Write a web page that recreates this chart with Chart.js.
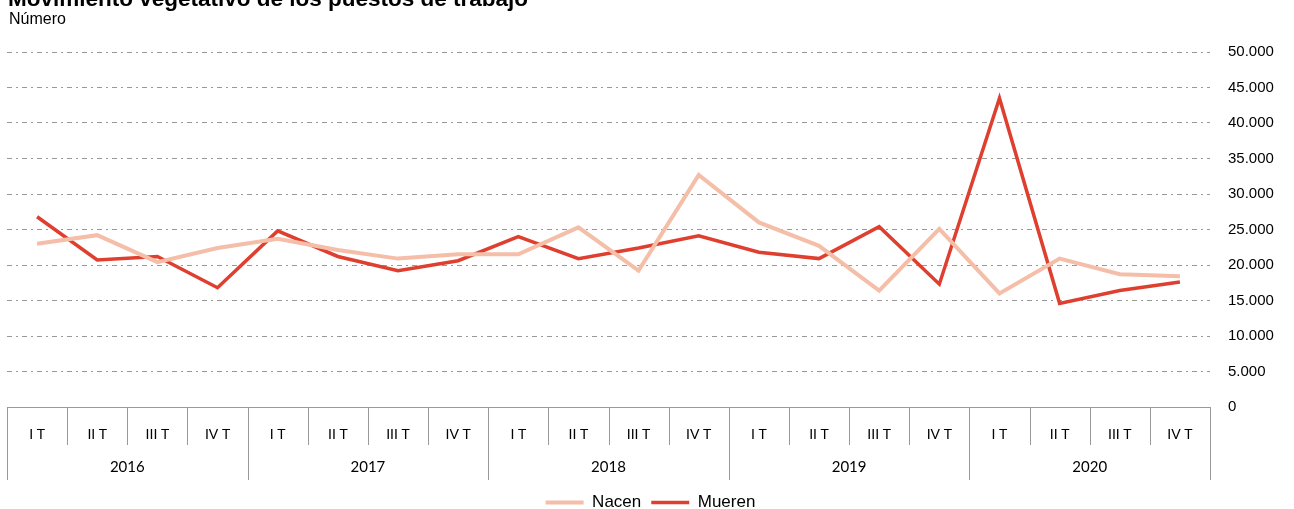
<!DOCTYPE html>
<html>
<head>
<meta charset="utf-8">
<script src="https://cdn.jsdelivr.net/npm/chart.js@4/dist/chart.umd.min.js"></script>
<style>
  body { margin: 0; background: #fff; }
  #wrap { position: relative; width: 1294px; height: 509px; overflow: hidden; }
  #wrap canvas { position: absolute; left: 0; top: 0; }
  .title { position: absolute; left: 8px; top: -14px; line-height: 22px; font: bold 22.5px "Liberation Sans", Arial, sans-serif; white-space: nowrap; }
  .sub { position: absolute; left: 9px; top: 10px; line-height: 16px; font: 16px "Liberation Sans", Arial, sans-serif; }
</style>
</head>
<body>
<div id="wrap">
  <canvas id="chart" width="1294" height="509"></canvas>
  <div class="title">Movimiento vegetativo de los puestos de trabajo</div>
  <div class="sub">Número</div>
</div>
<script>
const years = ['2016', '2017', '2018', '2019', '2020'];
const quarters = ['I T', 'II T', 'III T', 'IV T'];
const nacen = [23000, 24200, 20400, 22400, 23700, 22100, 20900, 21500, 21500, 25300,
  19200, 32700, 26000, 22700, 16400, 25100, 16000, 20900, 18700, 18400];
const mueren = [26800, 20700, 21200, 16800, 24800, 21200, 19200, 20600, 24000, 20900,
  22400, 24100, 21800, 20900, 25400, 17300, 43500, 14600, 16400, 17600];
const yTicks = [0, 5000, 10000, 15000, 20000, 25000, 30000, 35000, 40000, 45000, 50000];

const labels = [];
years.forEach(y => quarters.forEach(q => labels.push(q)));

const fmt = v => String(v).replace(/\B(?=(\d{3})+(?!\d))/g, '.');

// year groups and separators below the axis
const groupAxis = {
  id: 'groupAxis',
  afterDraw(chart) {
    const ctx = chart.ctx;
    const x = chart.scales.x;
    const area = chart.chartArea;
    const step = (area.right - area.left) / labels.length;
    ctx.save();
    ctx.strokeStyle = '#999';
    ctx.lineWidth = 1;
    for (let i = 0; i <= labels.length; i++) {
      const px = Math.round(area.left + i * step) + 0.5;
      const end = i % 4 === 0 ? area.bottom + 73 : area.bottom + 38;
      ctx.beginPath();
      ctx.moveTo(px, area.bottom);
      ctx.lineTo(px, end);
      ctx.stroke();
    }
    ctx.fillStyle = '#000';
    ctx.font = '15px Lato, "Liberation Sans", sans-serif';
    ctx.textAlign = 'center';
    ctx.textBaseline = 'middle';
    years.forEach((y, i) => {
      const cx = (x.getPixelForValue(i * 4) + x.getPixelForValue(i * 4 + 3)) / 2;
      ctx.fillText(y, cx, area.bottom + 60);
    });
    ctx.restore();
  }
};

new Chart(document.getElementById('chart'), {
  type: 'line',
  data: {
    labels: labels,
    datasets: [
      {
        label: 'Nacen',
        data: nacen,
        borderColor: '#f4bea8',
        backgroundColor: '#f4bea8',
        borderWidth: 4,
        pointRadius: 0,
        pointStyle: 'line',
        tension: 0
      },
      {
        label: 'Mueren',
        data: mueren,
        borderColor: '#de3f2e',
        backgroundColor: '#de3f2e',
        borderWidth: 3.5,
        pointRadius: 0,
        pointStyle: 'line',
        tension: 0
      }
    ]
  },
  options: {
    responsive: false,
    animation: false,
    layout: { padding: { left: 7, right: 0, top: 52, bottom: -12 } },
    plugins: {
      tooltip: { enabled: false },
      legend: {
        position: 'bottom',
        labels: {
          usePointStyle: true,
          pointStyle: 'line',
          pointStyleWidth: 38,
          boxWidth: 38,
          padding: 10,
          color: '#000',
          font: { family: '"Liberation Sans", Arial, sans-serif', size: 17 }
        }
      }
    },
    scales: {
      x: {
        offset: true,
        grid: { display: true, drawOnChartArea: false, drawTicks: false },
        border: { display: true, color: '#999', width: 1 },
        ticks: {
          color: '#000',
          padding: 19,
          maxRotation: 0,
          autoSkip: false,
          font: { family: 'Lato, "Liberation Sans", sans-serif', size: 14 }
        },
        afterFit(s) { s.height = 77; }
      },
      y: {
        position: 'right',
        min: 0,
        max: 50000,
        afterBuildTicks(s) { s.ticks = yTicks.map(v => ({ value: v })); },
        grid: {
          drawTicks: false,
          color: ctx => ctx.tick && ctx.tick.value === 0 ? 'rgba(0,0,0,0)' : '#999',
          lineWidth: 1
        },
        border: { display: false, dash: [5, 4, 2, 4] },
        ticks: {
          color: '#000',
          padding: 18,
          callback: v => fmt(v),
          font: { family: '"Liberation Sans", Arial, sans-serif', size: 15 }
        },
        afterFit(s) { s.width = 84; }
      }
    }
  },
  plugins: [groupAxis]
});
</script>
</body>
</html>
